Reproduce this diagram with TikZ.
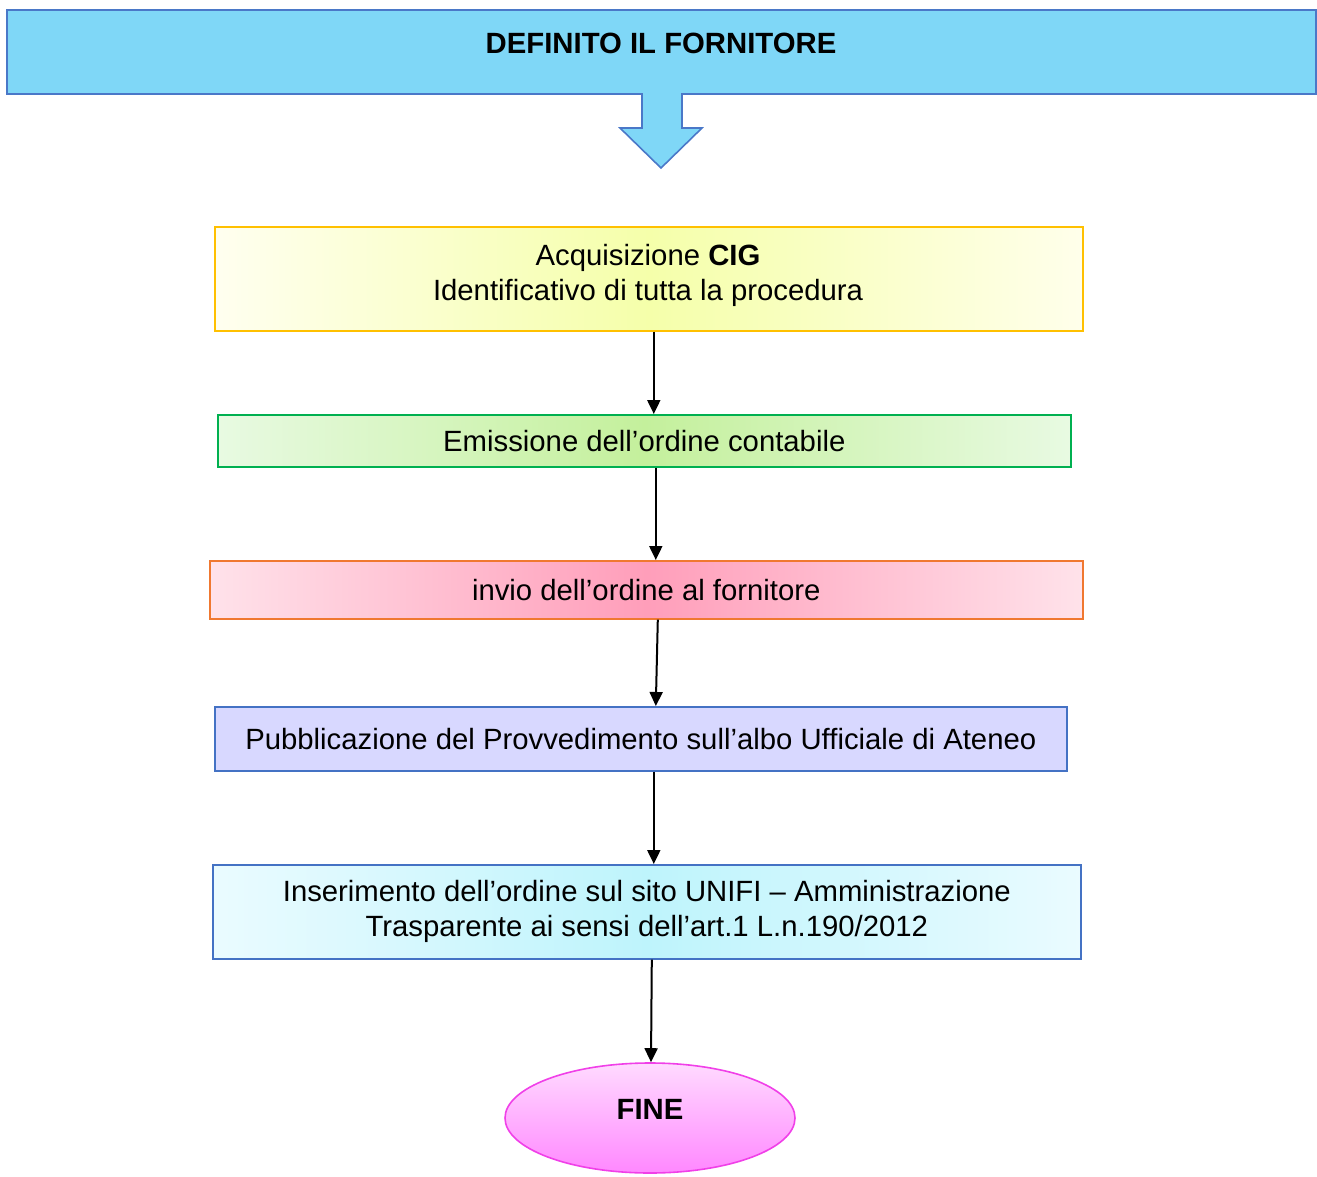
\documentclass[tikz,border=0pt]{standalone}
\usepackage{fontspec}
\setmainfont{Liberation Sans}
\usetikzlibrary{arrows.meta,shapes.geometric,calc}
\definecolor{bannerfill}{HTML}{7FD7F7}
\definecolor{bannerdraw}{HTML}{4A78C8}
\definecolor{ydraw}{HTML}{FFC000}
\definecolor{gdraw}{HTML}{00B050}
\definecolor{odraw}{HTML}{F07830}
\definecolor{bdraw}{HTML}{4472C4}
\definecolor{mdraw}{HTML}{F040E8}
\begin{document}
\begin{tikzpicture}[x=1pt,y=-1pt,
  txt/.style={font=\fontsize{29.3}{35}\selectfont, align=center, text=black},
  box/.style={txt, draw, line width=1.6pt, inner sep=0pt, anchor=north west},
  arr/.style={-{Triangle[length=14pt,width=13pt]}, line width=2pt, black}]
\useasboundingbox (0,0) rectangle (1317,1177);
% banner with arrow
\draw[bannerdraw, line width=1.6pt, fill=bannerfill]
  (7,10) -- (1316,10) -- (1316,94) -- (682,94) -- (682,128) -- (702,128)
  -- (661,168) -- (620,128) -- (642,128) -- (642,94) -- (7,94) -- cycle;
\node[txt, font=\fontsize{29.3}{35}\selectfont\bfseries] (title) at (661,43) {DEFINITO IL FORNITORE};
% boxes
\node[box, draw=ydraw, minimum width=868pt, minimum height=104pt,
  shading=axis, left color=yellow!6, right color=yellow!8, middle color={rgb,255:red,245;green,255;blue,170}]
  (b1) at (214,226) {};
\node[txt] (t1) at (648,275) {Acquisizione \textbf{CIG}\\Identificativo di tutta la procedura};
\node[box, draw=gdraw, minimum width=853pt, minimum height=52pt,
  shading=axis, left color={rgb,255:red,232;green,250;blue,226}, right color={rgb,255:red,232;green,250;blue,226}, middle color={rgb,255:red,196;green,240;blue,156}]
  (b2) at (217,414) {Emissione dell’ordine contabile};
\node[box, draw=odraw, minimum width=873pt, minimum height=58pt,
  shading=axis, left color={rgb,255:red,255;green,226;blue,234}, right color={rgb,255:red,255;green,226;blue,234}, middle color={rgb,255:red,255;green,158;blue,186}]
  (b3) at (209,560) {invio dell’ordine al fornitore};
\node[box, draw=bdraw, minimum width=852pt, minimum height=64pt,
  fill={rgb,255:red,216;green,216;blue,255}]
  (b4) at (214,706) {Pubblicazione del Provvedimento sull’albo Ufficiale di Ateneo};
\node[box, draw=bdraw, minimum width=868pt, minimum height=94pt,
  shading=axis, left color={rgb,255:red,234;green,251;blue,255}, right color={rgb,255:red,234;green,251;blue,255}, middle color={rgb,255:red,190;green,244;blue,252}]
  (b5) at (212,864) {Inserimento dell’ordine sul sito UNIFI – Amministrazione\\Trasparente ai sensi dell’art.1 L.n.190/2012};
\node[ellipse, draw=mdraw, line width=1.6pt, minimum width=290pt, minimum height=110pt, inner sep=0pt,
  top color={rgb,255:red,255;green,218;blue,255}, bottom color={rgb,255:red,255;green,136;blue,255}]
  (fine) at (650,1118) {};
\node[txt, font=\fontsize{29.3}{35}\selectfont\bfseries] (finet) at (650,1109) {FINE};
% connectors
\draw[arr] ([xshift=5pt]b1.south) -- ([xshift=9.5pt]b2.north);
\draw[arr] ([xshift=11.5pt]b2.south) -- ([xshift=9.5pt]b3.north);
\draw[arr] ([xshift=11.5pt]b3.south) -- ([xshift=15pt]b4.north);
\draw[arr] ([xshift=13pt]b4.south) -- ([xshift=7pt]b5.north);
\draw[arr] ([xshift=5pt]b5.south) -- ([xshift=1pt]fine.north);
\end{tikzpicture}
\end{document}
